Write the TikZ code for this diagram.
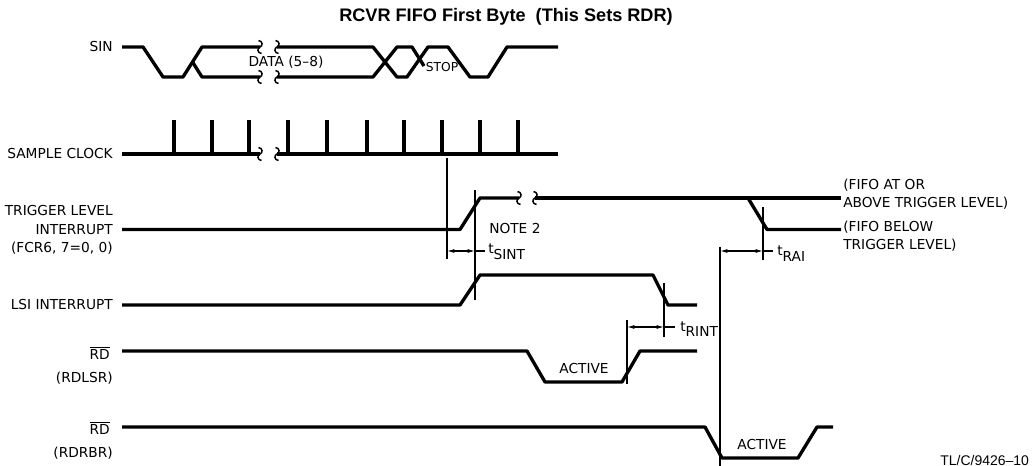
\documentclass[tikz,border=0pt]{standalone}
\usepackage{fontspec}
\setmainfont{DejaVu Sans}
\newfontfamily\titlefont{Liberation Sans}
\usetikzlibrary{arrows.meta}
\begin{document}
\begin{tikzpicture}[x=0.75pt,y=-0.75pt,
  sig/.style={line width=2.5pt, line join=round},
  guide/.style={line width=0.8pt},
  lbl/.style={font=\fontsize{10.3}{12}\selectfont, inner sep=0pt},
  smlbl/.style={font=\fontsize{9.2}{10}\selectfont, inner sep=0pt},
  dimarrow/.style={line width=0.8pt, {Latex[length=5.5pt,width=3pt]}-{Latex[length=5.5pt,width=3pt]}},
  brk/.style={line width=1.1pt},
  squig/.pic={\draw[brk] (-1.5,-6.5) .. controls (3,-6) and (3,-1) .. (0,0) .. controls (-3,1) and (-3,6) .. (1.5,6.5);}
]
\useasboundingbox (0,0) rectangle (1034,466);

% title
\node[font=\titlefont\bfseries\fontsize{13.6}{16}\selectfont, inner sep=0pt, anchor=base] (title) at (506,22) {RCVR FIFO First Byte~ (This Sets RDR)};

% left labels
\node[lbl, anchor=base east] (lsin) at (113,52) {SIN};
\node[lbl, anchor=base east] (lclk) at (113,159) {SAMPLE CLOCK};
\node[lbl, anchor=base east] (ltrig1) at (113,216) {TRIGGER LEVEL};
\node[lbl, anchor=base east] (ltrig2) at (113,234.5) {INTERRUPT};
\node[lbl, anchor=base east] (ltrig3) at (113,253) {(FCR6, 7=0, 0)};
\node[lbl, anchor=base east] (llsi) at (113,310) {LSI INTERRUPT};
\node[lbl, anchor=base east] (lrd1) at (110,359) {$\overline{\hbox{RD}}$};
\node[lbl, anchor=base east] (lrd1b) at (113,382) {(RDLSR)};
\node[lbl, anchor=base east] (lrd2) at (110,434.5) {$\overline{\hbox{RD}}$};
\node[lbl, anchor=base east] (lrd2b) at (113,457) {(RDRBR)};

% right labels
\node[lbl, anchor=base west] (rabove1) at (843,190) {(FIFO AT OR};
\node[lbl, anchor=base west] (rabove2) at (843,208) {ABOVE TRIGGER LEVEL)};
\node[lbl, anchor=base west] (rbelow1) at (843,231.5) {(FIFO BELOW};
\node[lbl, anchor=base west] (rbelow2) at (843,249.5) {TRIGGER LEVEL)};

% SIN
\draw[sig] (122,47) -- (143,47) -- (163,77) -- (183,77) -- (202,47) -- (260,47);
\draw[sig] (192.5,62) -- (202,77) -- (260,77);
\draw[sig] (277,47) -- (373,47) -- (397,77) -- (407,77) -- (428,47) -- (448,47) -- (470,77) -- (488,77) -- (507,47) -- (558,47);
\draw[sig] (277,77) -- (373,77) -- (397,47) -- (412,47) -- (424,66);
\pic at (260,47) {squig}; \pic at (277,47) {squig};
\pic at (260,77) {squig}; \pic at (277,77) {squig};
\node[lbl, anchor=base] (data) at (286,67) {DATA (5–8)};
\node[smlbl, anchor=base] (stop) at (442,72) {STOP};

% SAMPLE CLOCK
\draw[sig] (122,154) -- (260,154);
\draw[sig] (277,154) -- (558,154);
\pic at (260,154) {squig}; \pic at (277,154) {squig};
\foreach \t in {174,212,249,288,327,367,404,442,480,518}
  \draw[sig] (\t,120) -- (\t,154);

% TRIGGER LEVEL INTERRUPT
\draw[sig] (122,229.5) -- (460,229.5) -- (480,198) -- (519,198);
\draw[sig] (535,198) -- (841,198);
\draw[sig] (748,198) -- (767,229.5) -- (841,229.5);
\pic at (519,198) {squig}; \pic at (535,198) {squig};
\node[lbl, anchor=west] (note2) at (489,229) {NOTE 2};

% LSI INTERRUPT
\draw[sig] (122,305) -- (460,305) -- (480,275) -- (653,275) -- (668,305) -- (697,305);

% RD (RDLSR)
\draw[sig] (122,351) -- (527,351) -- (545,382) -- (622,382) -- (640,351) -- (697,351);
\node[lbl, anchor=center] (act1) at (584,368) {ACTIVE};

% RD (RDRBR)
\draw[sig] (122,427) -- (705,427) -- (722,458) -- (798,458) -- (817,427) -- (833,427);
\node[lbl, anchor=center] (act2) at (762,444) {ACTIVE};

% guide lines
\coordinate (v1t) at (447,158); \coordinate (v1b) at (447,259);
\coordinate (v2t) at (475,190); \coordinate (v2b) at (475,300);
\coordinate (v3t) at (627,320); \coordinate (v3b) at (627,384);
\coordinate (v4t) at (664,283); \coordinate (v4b) at (664,337);
\coordinate (v5t) at (720,247); \coordinate (v5b) at (720,470);
\coordinate (v6t) at (763,207); \coordinate (v6b) at (763,260);
\draw[guide] (v1t) -- (v1b);
\draw[guide] (v2t) -- (v2b);
\draw[guide] (v3t) -- (v3b);
\draw[guide] (v4t) -- (v4b);
\draw[guide] (v5t) -- (v5b);
\draw[guide] (v6t) -- (v6b);

% dimensions
\coordinate (s1) at (447,251); \coordinate (s2) at (475,251); \coordinate (s3) at (485,251);
\draw[dimarrow] (s1) -- (s2); \draw[guide] (s2) -- (s3);
\node[lbl, anchor=base west] (tsint) at (488,254) {t\raisebox{-4pt}{SINT}};

\coordinate (r1) at (627,327); \coordinate (r2) at (664,327); \coordinate (r3) at (675,327);
\draw[dimarrow] (r1) -- (r2); \draw[guide] (r2) -- (r3);
\node[lbl, anchor=base west] (trint) at (680,331.5) {t\raisebox{-4pt}{RINT}};

\coordinate (a1) at (720,251); \coordinate (a2) at (763,251); \coordinate (a3) at (773,251);
\draw[dimarrow] (a1) -- (a2); \draw[guide] (a2) -- (a3);
\node[lbl, anchor=base west] (trai) at (777,256) {t\raisebox{-4pt}{RAI}};

% figure id
\node[font=\titlefont\fontsize{10.5}{12}\selectfont, inner sep=0pt, anchor=base west] (figid) at (940,465) {TL/C/9426–10};
\end{tikzpicture}
\end{document}
